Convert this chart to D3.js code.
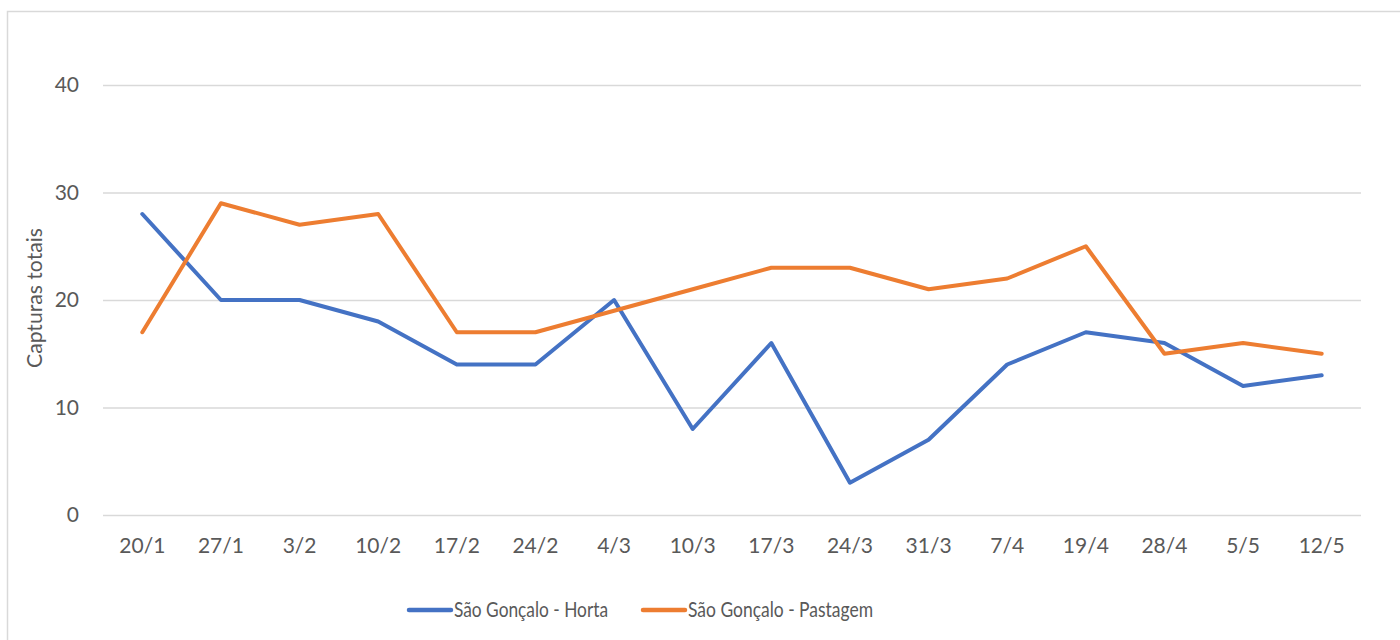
<!DOCTYPE html>
<html><head><meta charset="utf-8">
<script src="https://cdn.jsdelivr.net/npm/d3@7"></script>
<style>
body{margin:0;background:#fff;}
svg{display:block;font-family:Lato,"Open Sans",sans-serif;}
</style></head>
<body>
<svg id="c" width="1400" height="640"></svg>
<script>
const categories = ["20/1","27/1","3/2","10/2","17/2","24/2","4/3","10/3","17/3","24/3","31/3","7/4","19/4","28/4","5/5","12/5"];
const horta = [28,20,20,18,14,14,20,8,16,3,7,14,17,16,12,13];
const pastagem = [17,29,27,28,17,17,19,21,23,23,21,22,25,15,16,15];
const yTicks = [0,10,20,30,40];
const seriesNames = ["São Gonçalo - Horta","São Gonçalo - Pastagem"];
const colors = ["#4472C4","#ED7D31"];

(function(){
const FONT = "Lato, 'Open Sans', sans-serif";
const svg = d3.select("#c");
svg.append("rect").attr("x",7.5).attr("y",11.5).attr("width",1420).attr("height",660)
  .attr("fill","#fff").attr("stroke","#d9d9d9").attr("stroke-width",1.5);

const pL=103, pR=1361, pT=85, pB=515;
const x = d3.scaleBand().domain(categories).range([pL,pR]);
const y = d3.scaleLinear().domain([0,40]).range([pB,pT]);

const gy = svg.append("g").attr("transform",`translate(${pL},0)`)
  .call(d3.axisLeft(y).tickValues(yTicks).tickSize(-(pR-pL)).tickPadding(24));
gy.attr("font-family",FONT);
gy.select(".domain").remove();
gy.selectAll("line").attr("stroke","#d9d9d9").attr("stroke-width",1.5);
gy.selectAll("text").attr("fill","#595959").attr("font-size","21px");

const gx = svg.append("g").attr("transform",`translate(0,${pB})`)
  .call(d3.axisBottom(x).tickSize(0).tickPadding(23));
gx.attr("font-family",FONT);
gx.select(".domain").remove();
gx.selectAll("text").attr("fill","#595959").attr("font-size","21px").attr("dy","0.71em");

svg.append("text").attr("transform","translate(42,298) rotate(-90)")
  .attr("text-anchor","middle").attr("fill","#595959").attr("font-size","22px")
  .attr("textLength",140).attr("lengthAdjust","spacingAndGlyphs").text("Capturas totais");

const line = d3.line().x((d,i)=>x(categories[i])+x.bandwidth()/2).y(d=>y(d));
[horta,pastagem].forEach((s,k)=>{
  svg.append("path").datum(s).attr("d",line).attr("fill","none")
    .attr("stroke",colors[k]).attr("stroke-width",4).attr("stroke-linejoin","round").attr("stroke-linecap","round");
});

const lg = svg.append("g");
const lx = [409,643];
const lw = [154,185];
seriesNames.forEach((n,k)=>{
  lg.append("line").attr("x1",lx[k]).attr("x2",lx[k]+42).attr("y1",610).attr("y2",610)
    .attr("stroke",colors[k]).attr("stroke-width",4.5).attr("stroke-linecap","round");
  lg.append("text").attr("x",lx[k]+45).attr("y",617)
    .attr("fill","#595959").attr("font-size","21px")
    .attr("textLength",lw[k]).attr("lengthAdjust","spacingAndGlyphs").text(n);
});
})();
</script>
</body></html>
